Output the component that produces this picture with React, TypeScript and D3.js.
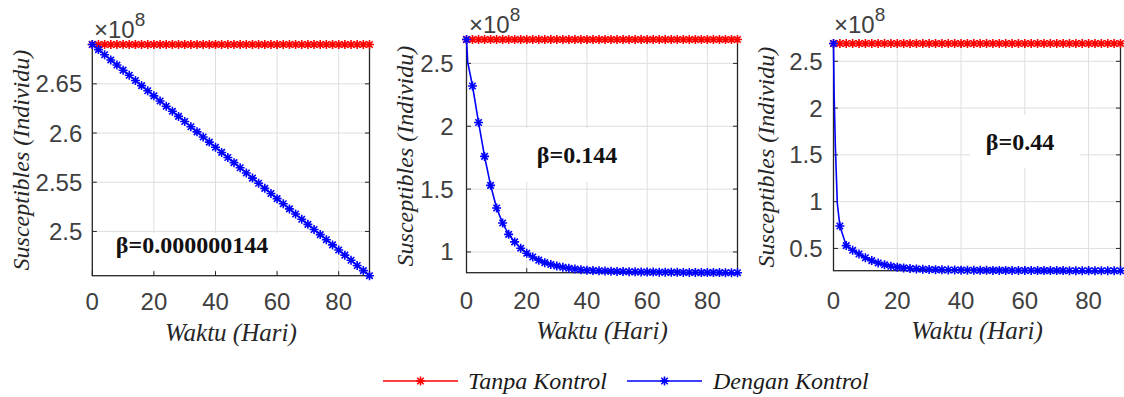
import React from "react";
import * as d3 from "d3";

// Days at which the model output is sampled (every 2 days, 0..90)
const DAYS = [
  0, 2, 4, 6, 8, 10, 12, 14, 16, 18, 20, 22, 24, 26, 28, 30, 32, 34, 36, 38, 40, 42, 44,
  46, 48, 50, 52, 54, 56, 58, 60, 62, 64, 66, 68, 70, 72, 74, 76, 78, 80, 82, 84, 86, 88, 90,
];

// Susceptibles without control (×10^8)
const TANPA_KONTROL = [
  2.69, 2.69, 2.69, 2.69, 2.69, 2.69, 2.69, 2.69, 2.69, 2.69, 2.69, 2.69, 2.69, 2.69, 2.69, 2.69,
  2.69, 2.69, 2.69, 2.69, 2.69, 2.69, 2.69, 2.69, 2.69, 2.69, 2.69, 2.69, 2.69, 2.69, 2.69, 2.69,
  2.69, 2.69, 2.69, 2.69, 2.69, 2.69, 2.69, 2.69, 2.69, 2.69, 2.69, 2.69, 2.69, 2.69,
];

// Susceptibles with control, β = 0.000000144 (×10^8)
const DENGAN_KONTROL_B1 = [
  2.69, 2.6848, 2.6796, 2.6743, 2.6691, 2.6639, 2.6587, 2.6534, 2.6482, 2.643, 2.6378, 2.6326,
  2.6273, 2.6221, 2.6169, 2.6117, 2.6064, 2.6012, 2.596, 2.5908, 2.5856, 2.5803, 2.5751, 2.5699,
  2.5647, 2.5594, 2.5542, 2.549, 2.5438, 2.5386, 2.5333, 2.5281, 2.5229, 2.5177, 2.5124, 2.5072,
  2.502, 2.4968, 2.4916, 2.4863, 2.4811, 2.4759, 2.4707, 2.4654, 2.4602, 2.455,
];

// Susceptibles with control, β = 0.144 (×10^8)
const DENGAN_KONTROL_B2 = [
  2.69, 2.32, 2.03, 1.76, 1.53, 1.35, 1.23, 1.14, 1.08, 1.03, 0.99, 0.96, 0.935, 0.915, 0.9,
  0.888, 0.878, 0.87, 0.864, 0.859, 0.855, 0.852, 0.85, 0.848, 0.846, 0.845, 0.844, 0.843, 0.842,
  0.841, 0.84, 0.84, 0.839, 0.839, 0.838, 0.838, 0.837, 0.837, 0.837, 0.836, 0.836, 0.836, 0.836,
  0.835, 0.835, 0.835,
];
// extra solver steps in the first day (line only, no markers)
const SOLVER_DAYS_B2 = [0.4];
const SOLVER_VALS_B2 = [2.51];

// Susceptibles with control, β = 0.44 (×10^8)
const DENGAN_KONTROL_B3 = [
  2.69, 0.74, 0.53, 0.48, 0.44, 0.4, 0.37, 0.345, 0.325, 0.31, 0.3, 0.292, 0.286, 0.281, 0.278,
  0.275, 0.273, 0.271, 0.27, 0.269, 0.268, 0.267, 0.267, 0.266, 0.266, 0.265, 0.265, 0.265, 0.264,
  0.264, 0.264, 0.264, 0.263, 0.263, 0.263, 0.263, 0.263, 0.262, 0.262, 0.262, 0.262, 0.262,
  0.262, 0.262, 0.262, 0.262,
];
const SOLVER_DAYS_B3 = [0.2, 0.6, 1.2];
const SOLVER_VALS_B3 = [2.14, 1.57, 0.98];

const X_TICKS = [0, 20, 40, 60, 80];
const Y_TICKS_B1 = [2.5, 2.55, 2.6, 2.65];
const Y_TICKS_B2 = [1, 1.5, 2, 2.5];
const Y_TICKS_B3 = [0.5, 1, 1.5, 2, 2.5];

const BETA_LABELS = ["β=0.000000144", "β=0.144", "β=0.44"];
const SERIES_NAMES = ["Tanpa Kontrol", "Dengan Kontrol"];

const RED = "#ff0000";
const BLUE = "#0000ff";
const AXIS = "#262626";
const TICK_TEXT = "#404040";
const GRID = "#dedede";
const SANS = "'Liberation Sans', Arial, sans-serif";
const SERIF = "'Liberation Serif', 'Times New Roman', serif";

type Layout = {
  left: number;
  right: number;
  top: number;
  bottom: number;
  yLabelX: number;
  yTickGap: number;
  xTickBaseline: number;
  xLabelBaseline: number;
  expX: number;
  expBaseline: number;
  betaX: number;
  betaY: number;
  box: [number, number, number, number];
};

const LAYOUTS: Layout[] = [
  {
    left: 92.3, right: 369.5, top: 44.5, bottom: 275.7,
    yLabelX: 29, yTickGap: 10, xTickBaseline: 310, xLabelBaseline: 341,
    expX: 94, expBaseline: 38, betaX: 192, betaY: 245, box: [96, 233, 290, 270],
  },
  {
    left: 466.5, right: 737.5, top: 39.5, bottom: 272.7,
    yLabelX: 413, yTickGap: 13, xTickBaseline: 308.5, xLabelBaseline: 339,
    expX: 469, expBaseline: 33, betaX: 577, betaY: 155, box: [516, 128, 638, 182],
  },
  {
    left: 833.5, right: 1120.5, top: 43.5, bottom: 270.7,
    yLabelX: 774, yTickGap: 11, xTickBaseline: 308.5, xLabelBaseline: 339,
    expX: 834, expBaseline: 33, betaX: 1020, betaY: 142, box: [970, 115, 1080, 168],
  },
];

// MATLAB-style '*' marker: plus and cross overlaid
function asterisk(r: number) {
  const d = r * 0.72;
  return `M${-r},0H${r}M0,${-r}V${r}M${-d},${-d}L${d},${d}M${-d},${d}L${d},${-d}`;
}
const MARK = asterisk(4.5);

function Series({
  pts,
  markPts,
  color,
  x,
  y,
}: {
  pts: [number, number][];
  markPts: [number, number][];
  color: string;
  x: d3.ScaleLinear<number, number>;
  y: d3.ScaleLinear<number, number>;
}) {
  const line = d3
    .line<[number, number]>()
    .x((d) => x(d[0]))
    .y((d) => y(d[1]));
  return (
    <g>
      <path d={line(pts) || ""} fill="none" stroke={color} strokeWidth={1.6} />
      {markPts.map((d, i) => (
        <path
          key={i}
          d={MARK}
          transform={`translate(${x(d[0])},${y(d[1])})`}
          fill="none"
          stroke={color}
          strokeWidth={1.6}
        />
      ))}
    </g>
  );
}

function Panel({
  layout,
  blue,
  solverDays,
  solverVals,
  yTicks,
  beta,
}: {
  layout: Layout;
  blue: number[];
  solverDays: number[];
  solverVals: number[];
  yTicks: number[];
  beta: string;
}) {
  const L = layout;
  const x = d3.scaleLinear().domain([0, 90]).range([L.left, L.right]);
  const all = [...blue, ...TANPA_KONTROL, ...solverVals];
  const y = d3
    .scaleLinear()
    .domain(d3.extent(all) as [number, number])
    .range([L.bottom, L.top]);

  const redPts = DAYS.map((d, i) => [d, TANPA_KONTROL[i]] as [number, number]);
  const bluePts = DAYS.map((d, i) => [d, blue[i]] as [number, number]);
  const blueLine = bluePts
    .concat(solverDays.map((d, i) => [d, solverVals[i]] as [number, number]))
    .sort((a, b) => a[0] - b[0]);

  const tk = 4.5;
  const [bx0, by0, bx1, by1] = L.box;

  return (
    <g>
      {/* grid */}
      {X_TICKS.map((t) => (
        <line key={"gx" + t} x1={x(t)} x2={x(t)} y1={L.top} y2={L.bottom} stroke={GRID} strokeWidth={1} />
      ))}
      {yTicks.map((t) => (
        <line key={"gy" + t} x1={L.left} x2={L.right} y1={y(t)} y2={y(t)} stroke={GRID} strokeWidth={1} />
      ))}

      {/* annotation with white background */}
      <rect x={bx0} y={by0} width={bx1 - bx0} height={by1 - by0} fill="#ffffff" />
      <text
        x={L.betaX}
        y={L.betaY + 8}
        textAnchor="middle"
        fontFamily={SERIF}
        fontWeight="bold"
        fontSize={24}
        fill="#111"
      >
        {beta}
      </text>

      {/* axes box */}
      <rect x={L.left} y={L.top} width={L.right - L.left} height={L.bottom - L.top} fill="none" stroke={AXIS} strokeWidth={1.3} />
      {X_TICKS.map((t) => (
        <g key={"tx" + t}>
          <line x1={x(t)} x2={x(t)} y1={L.bottom} y2={L.bottom - tk} stroke={AXIS} />
          <line x1={x(t)} x2={x(t)} y1={L.top} y2={L.top + tk} stroke={AXIS} />
        </g>
      ))}
      {yTicks.map((t) => (
        <g key={"ty" + t}>
          <line x1={L.left} x2={L.left + tk} y1={y(t)} y2={y(t)} stroke={AXIS} />
          <line x1={L.right} x2={L.right - tk} y1={y(t)} y2={y(t)} stroke={AXIS} />
        </g>
      ))}

      {/* data */}
      <Series pts={redPts} markPts={redPts} color={RED} x={x} y={y} />
      <Series pts={blueLine} markPts={bluePts} color={BLUE} x={x} y={y} />

      {/* tick labels */}
      {X_TICKS.map((t) => (
        <text key={"lx" + t} x={x(t)} y={L.xTickBaseline} textAnchor="middle" fontFamily={SANS} fontSize={24} fill={TICK_TEXT}>
          {t}
        </text>
      ))}
      {yTicks.map((t) => (
        <text
          key={"ly" + t}
          x={L.left - L.yTickGap}
          y={y(t) + 8.5}
          textAnchor="end"
          fontFamily={SANS}
          fontSize={24}
          fill={TICK_TEXT}
        >
          {String(t)}
        </text>
      ))}
      <text x={L.expX} y={L.expBaseline} fontFamily={SANS} fontSize={24} fill={TICK_TEXT}>
        ×10
        <tspan dy={-12} fontSize={19}>
          8
        </tspan>
      </text>

      {/* axis titles */}
      <text
        x={(L.left + L.right) / 2}
        y={L.xLabelBaseline}
        textAnchor="middle"
        fontFamily={SERIF}
        fontStyle="italic"
        fontSize={25}
        fill="#262626"
      >
        Waktu (Hari)
      </text>
      <text
        transform={`translate(${L.yLabelX},${(L.top + L.bottom) / 2}) rotate(-90)`}
        textAnchor="middle"
        fontFamily={SERIF}
        fontStyle="italic"
        fontSize={24}
        fill="#262626"
      >
        Susceptibles (Individu)
      </text>
    </g>
  );
}

function Legend() {
  const items = [
    { name: SERIES_NAMES[0], color: RED, x0: 383, x1: 458, tx: 468 },
    { name: SERIES_NAMES[1], color: BLUE, x0: 627, x1: 702, tx: 713 },
  ];
  const cy = 381;
  return (
    <g>
      {items.map((it) => (
        <g key={it.name}>
          <line x1={it.x0} x2={it.x1} y1={cy} y2={cy} stroke={it.color} strokeWidth={1.6} />
          <path d={MARK} transform={`translate(${(it.x0 + it.x1) / 2},${cy})`} fill="none" stroke={it.color} strokeWidth={1.6} />
          <text x={it.tx} y={cy + 8} fontFamily={SERIF} fontStyle="italic" fontSize={24} fill="#1a1a1a">
            {it.name}
          </text>
        </g>
      ))}
    </g>
  );
}

export default function App() {
  return (
    <svg
      width={1124}
      height={397}
      style={{ position: "absolute", left: 0, top: 0, background: "#ffffff" }}
    >
      <rect width={1124} height={397} fill="#ffffff" />
      <Panel
        layout={LAYOUTS[0]}
        blue={DENGAN_KONTROL_B1}
        solverDays={[]}
        solverVals={[]}
        yTicks={Y_TICKS_B1}
        beta={BETA_LABELS[0]}
      />
      <Panel
        layout={LAYOUTS[1]}
        blue={DENGAN_KONTROL_B2}
        solverDays={SOLVER_DAYS_B2}
        solverVals={SOLVER_VALS_B2}
        yTicks={Y_TICKS_B2}
        beta={BETA_LABELS[1]}
      />
      <Panel
        layout={LAYOUTS[2]}
        blue={DENGAN_KONTROL_B3}
        solverDays={SOLVER_DAYS_B3}
        solverVals={SOLVER_VALS_B3}
        yTicks={Y_TICKS_B3}
        beta={BETA_LABELS[2]}
      />
      <Legend />
    </svg>
  );
}
